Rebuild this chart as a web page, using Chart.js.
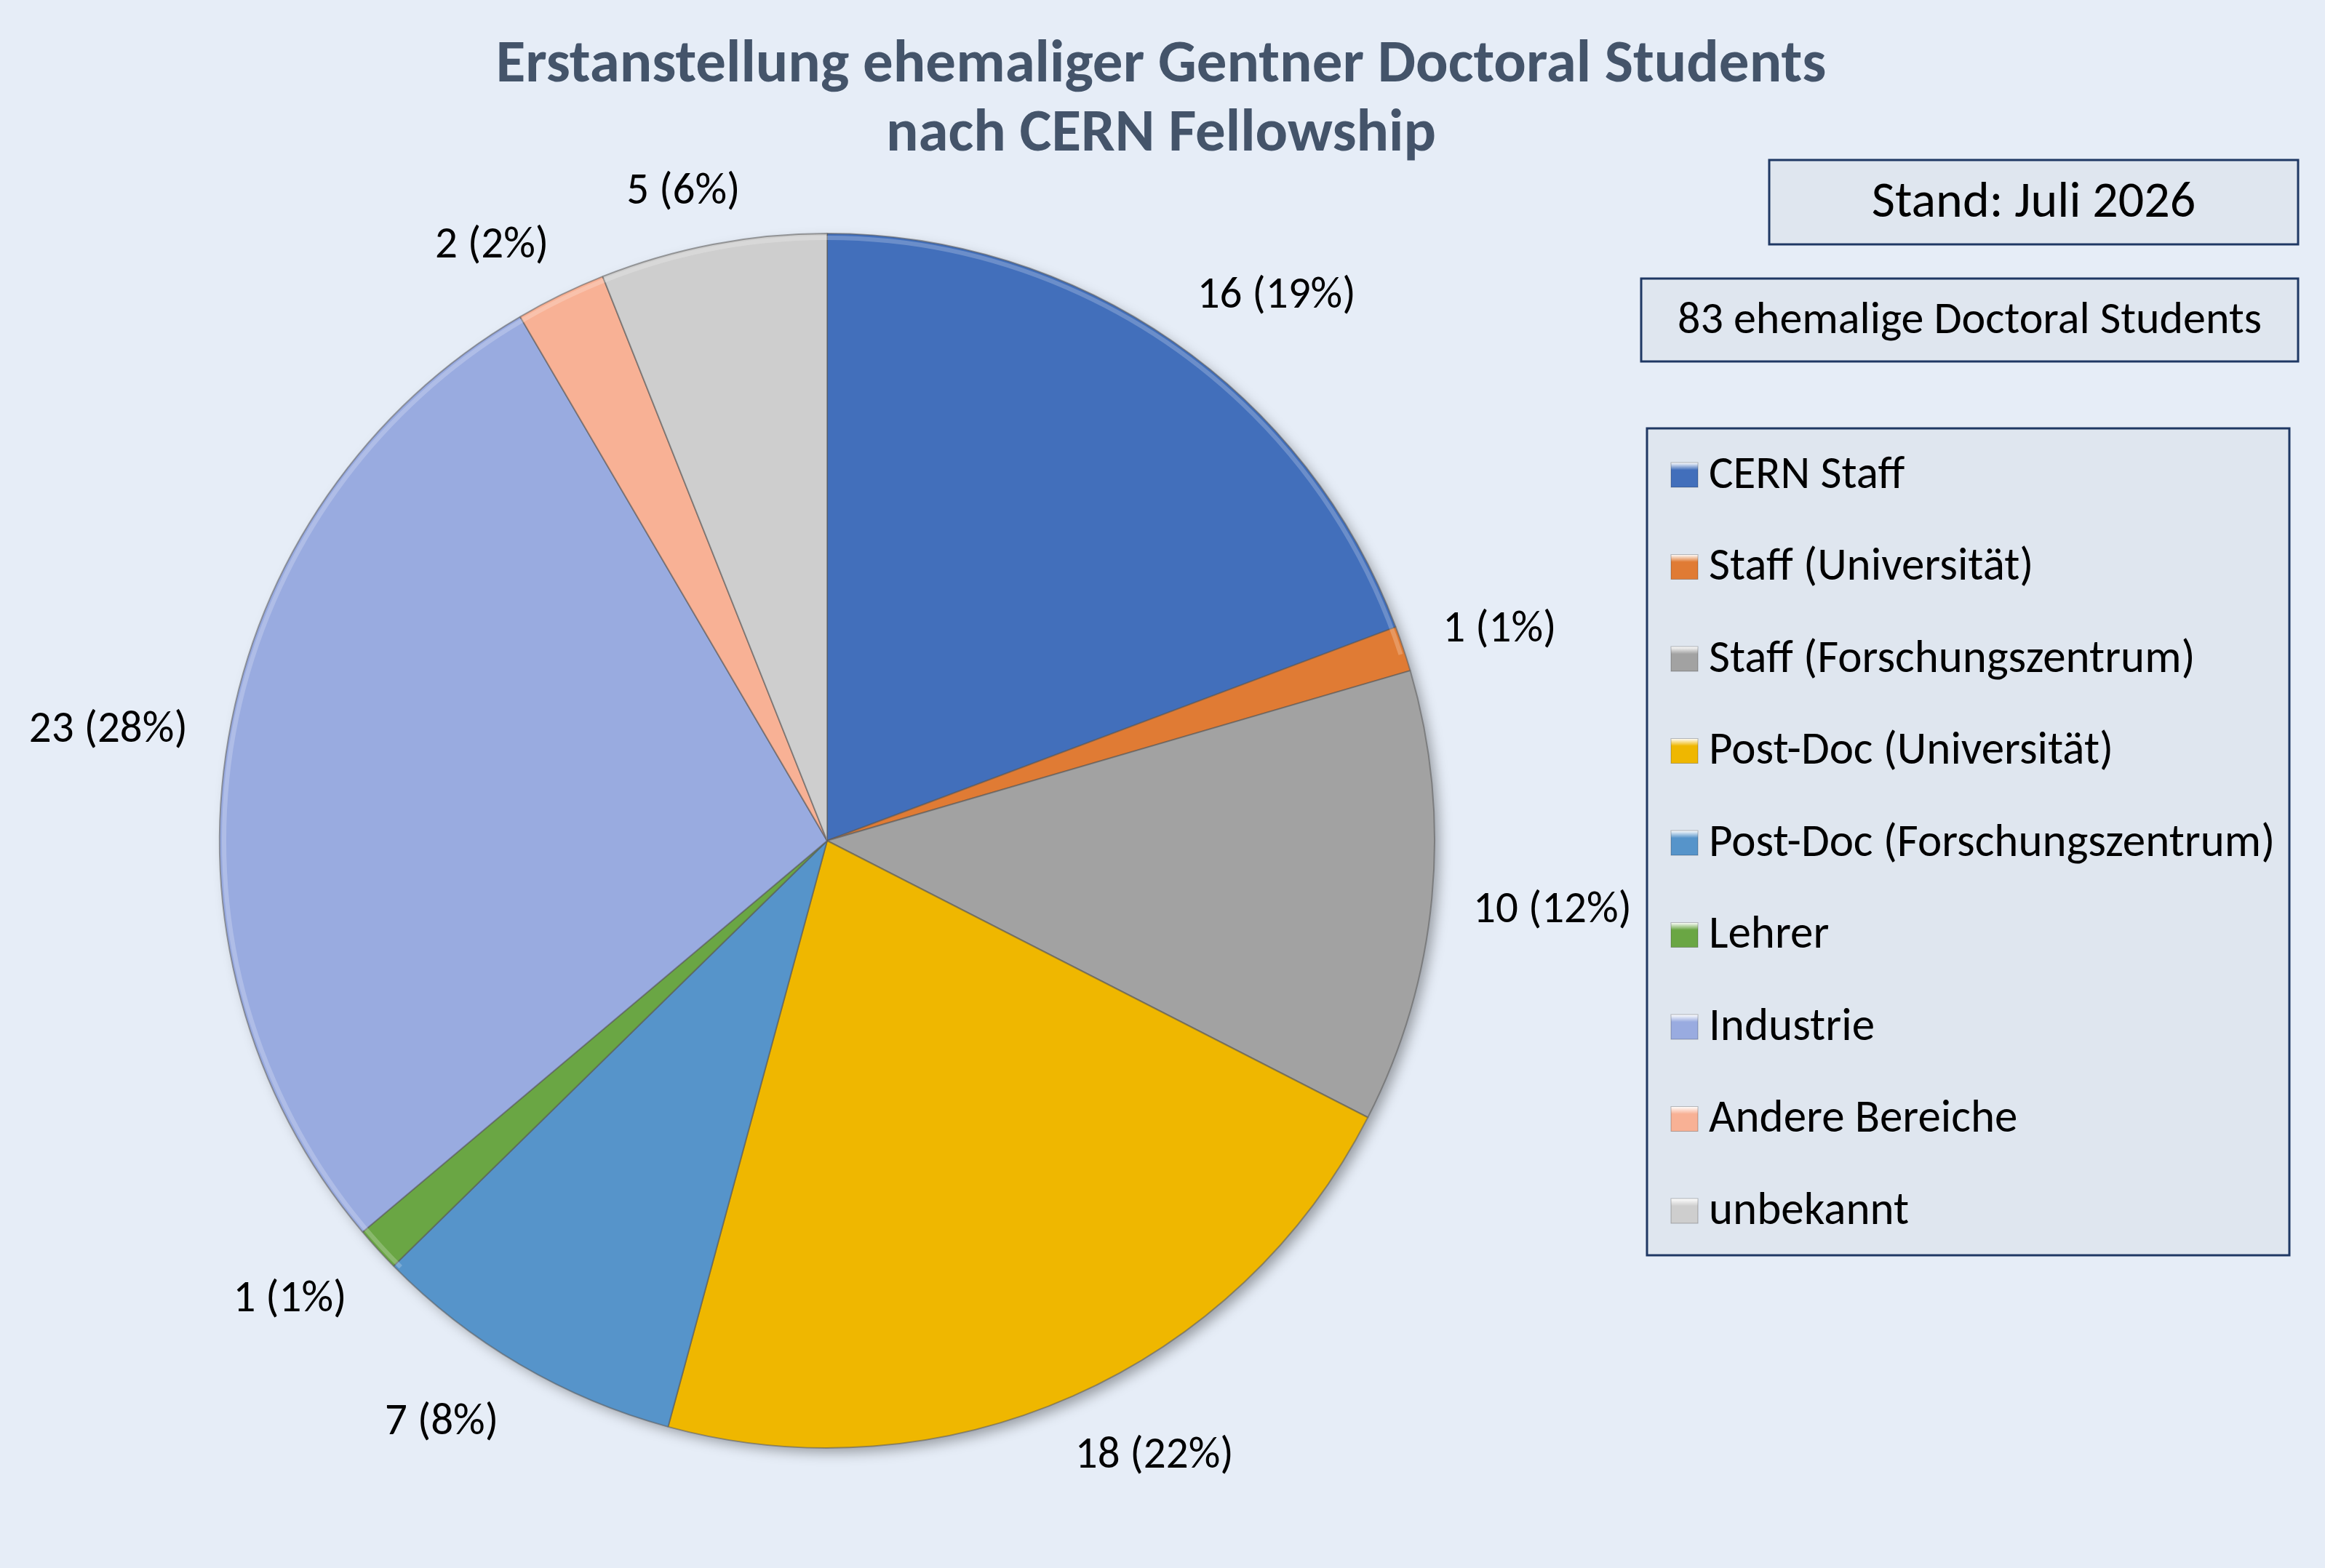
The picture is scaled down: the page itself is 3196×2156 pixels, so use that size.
<!DOCTYPE html>
<html lang="de">
<head>
  <meta charset="UTF-8" />
  <title>Erstanstellung ehemaliger Gentner Doctoral Students</title>
  <script src="https://cdn.jsdelivr.net/npm/chart.js"></script>
  <style>
    html, body { margin: 0; padding: 0; background: #e6edf7; }
    #chart { display: block; }
  </style>
</head>
<body>
  <canvas id="chart" width="3196" height="2156" style="width:3196px;height:2156px"></canvas>

  <script>
    const categories = ['CERN Staff', 'Staff (Universität)', 'Staff (Forschungszentrum)', 'Post-Doc (Universität)',
      'Post-Doc (Forschungszentrum)', 'Lehrer', 'Industrie', 'Andere Bereiche', 'unbekannt'];
    const counts = [16, 1, 10, 18, 7, 1, 23, 2, 5];
    const sliceColors = ['#426fbb', '#e07b34', '#a2a2a2', '#efb700', '#5694ca', '#6aa644', '#99abe0', '#f8b195', '#cecece'];
    const titleLines = ['Erstanstellung ehemaliger Gentner Doctoral Students', 'nach CERN Fellowship'];
    const standText = 'Stand: Juli 2026';
    const totalText = counts.reduce((a, b) => a + b, 0) + ' ehemalige Doctoral Students';

    const FONT = '"Carlito", "Liberation Sans Narrow", "Liberation Sans", sans-serif';

    // draws title, info boxes, legend and the outside value labels
    const decorations = {
      id: 'decorations',
      beforeDatasetsDraw(chart) {
        const arc = chart.getDatasetMeta(0).data[0];
        if (!arc) return;
        const ctx = chart.ctx;
        ctx.save();
        ctx.shadowColor = 'rgba(0,0,0,0.35)';
        ctx.shadowBlur = 18;
        ctx.shadowOffsetX = 8;
        ctx.shadowOffsetY = 8;
        ctx.fillStyle = '#888';
        ctx.beginPath();
        ctx.arc(arc.x, arc.y, arc.outerRadius - 2, 0, Math.PI * 2);
        ctx.fill();
        ctx.restore();
      },
      afterDatasetsDraw(chart) {
        // soft bevel highlight along the rim
        const arc = chart.getDatasetMeta(0).data[0];
        if (!arc) return;
        const ctx = chart.ctx;
        ctx.save();
        ctx.strokeStyle = 'rgba(255,255,255,0.22)';
        ctx.lineWidth = 6;
        ctx.beginPath();
        ctx.arc(arc.x, arc.y, arc.outerRadius - 6, Math.PI * 0.75, Math.PI * 1.9);
        ctx.stroke();
        ctx.restore();
      },
      afterDraw(chart) {
        const ctx = chart.ctx;
        const meta = chart.getDatasetMeta(0);
        const total = counts.reduce((a, b) => a + b, 0);

        // title
        ctx.save();
        ctx.fillStyle = '#44546a';
        ctx.textAlign = 'center';
        ctx.textBaseline = 'alphabetic';
        ctx.font = 'bold 83px ' + FONT;
        ctx.fillText(titleLines[0], 1596, 112);
        ctx.fillText(titleLines[1], 1596, 207);
        ctx.restore();

        // info boxes
        function box(x, y, w, h, text, size) {
          ctx.save();
          ctx.fillStyle = '#dfe6ef';
          ctx.fillRect(x, y, w, h);
          ctx.strokeStyle = '#1f3864';
          ctx.lineWidth = 3;
          ctx.strokeRect(x, y, w, h);
          ctx.fillStyle = '#000';
          ctx.font = size + 'px ' + FONT;
          ctx.textAlign = 'center';
          ctx.textBaseline = 'middle';
          ctx.fillText(text, x + w / 2, y + h / 2 + 2);
          ctx.restore();
        }
        box(2432, 220, 727, 116, standText, 70);
        box(2256, 383, 903, 114, totalText, 62);

        // legend
        const lx = 2264, ly = 589, lw = 883, lh = 1137;
        ctx.save();
        ctx.fillStyle = '#dfe6ef';
        ctx.fillRect(lx, ly, lw, lh);
        ctx.strokeStyle = '#1f3864';
        ctx.lineWidth = 3;
        ctx.strokeRect(lx, ly, lw, lh);
        ctx.font = '63px ' + FONT;
        ctx.textBaseline = 'middle';
        ctx.textAlign = 'left';
        chart.data.labels.forEach((lab, i) => {
          const cy = 653 + i * 126.5;
          const col = chart.data.datasets[0].backgroundColor[i];
          const g = ctx.createLinearGradient(0, cy - 17, 0, cy + 17);
          g.addColorStop(0, '#ffffff');
          g.addColorStop(0.3, col);
          g.addColorStop(1, col);
          ctx.fillStyle = g;
          ctx.fillRect(2297, cy - 17, 37, 34);
          ctx.strokeStyle = 'rgba(0,0,0,0.25)';
          ctx.lineWidth = 1;
          ctx.strokeRect(2297, cy - 17, 37, 34);
          ctx.fillStyle = '#000';
          ctx.fillText(lab, 2349, cy + 2);
        });
        ctx.restore();

        // value labels outside the slices
        ctx.save();
        ctx.font = '61px ' + FONT;
        ctx.fillStyle = '#000';
        ctx.textAlign = 'center';
        ctx.textBaseline = 'middle';
        const clamp = v => Math.max(-1, Math.min(1, v));
        meta.data.forEach((a, i) => {
          const p = a.getProps(['x', 'y', 'startAngle', 'endAngle', 'outerRadius'], true);
          const mid = (p.startAngle + p.endAngle) / 2;
          const v = counts[i];
          const txt = v + ' (' + Math.round(v / total * 100) + '%)';
          const hw = ctx.measureText(txt).width / 2 + 2;
          const hh = 25;
          const r = p.outerRadius + 55;
          const cx = p.x + r * Math.cos(mid) + hw * clamp(2 * Math.cos(mid));
          const cy = p.y + r * Math.sin(mid) + hh * clamp(2 * Math.sin(mid)) + 8;
          ctx.fillText(txt, cx, cy);
        });
        ctx.restore();
      }
    };

    const R = 835, CX = 1137, CY = 1156;

    new Chart(document.getElementById('chart'), {
      type: 'pie',
      data: {
        labels: categories,
        datasets: [{
          data: counts,
          backgroundColor: sliceColors,
          borderColor: 'rgba(90,90,90,0.55)',
          borderWidth: 2,
          radius: R
        }]
      },
      options: {
        responsive: false,
        devicePixelRatio: 1,
        animation: false,
        layout: {
          padding: { left: CX - R, top: CY - R, right: 3196 - (CX + R), bottom: 2156 - (CY + R) }
        },
        plugins: {
          legend: { display: false },
          title: { display: false },
          tooltip: { enabled: false }
        }
      },
      plugins: [decorations]
    });
  </script>
</body>
</html>
